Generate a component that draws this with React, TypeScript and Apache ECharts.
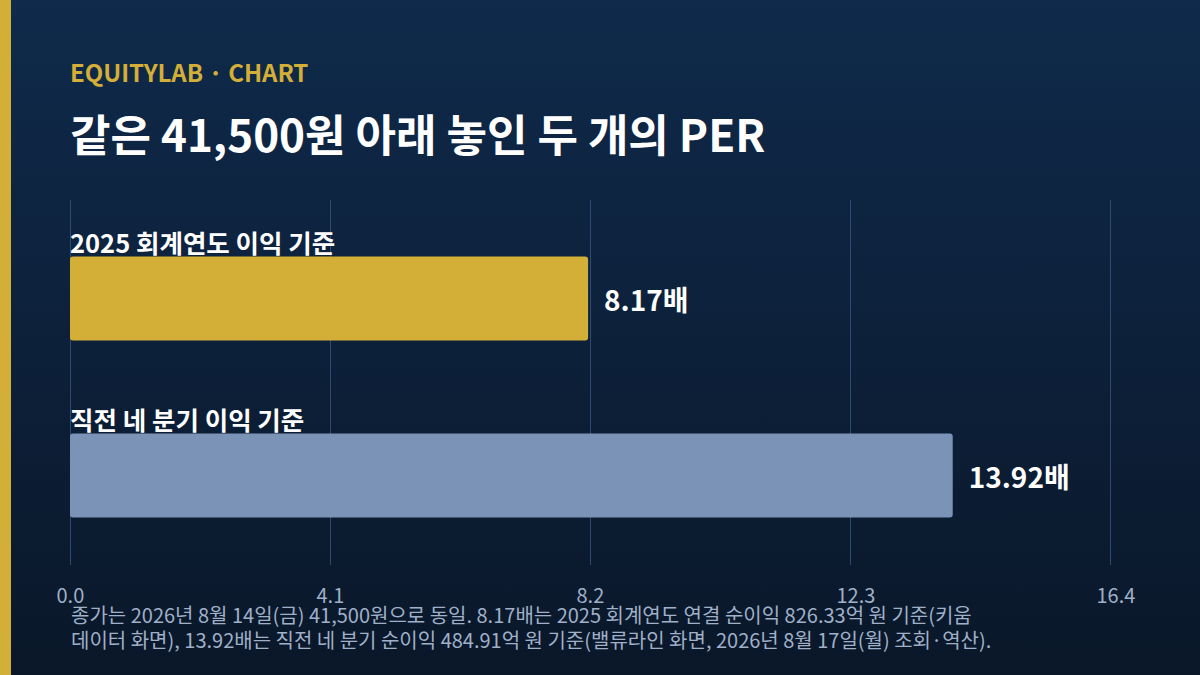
import React, { useEffect, useRef } from "react";
import * as echarts from "echarts";

const categories = ["2025 회계연도 이익 기준", "직전 네 분기 이익 기준"];
const perValues = [8.17, 13.92];
const barColors = ["#d4af37", "#7b93b6"];
const axisMin = 0;
const axisMax = 16.4;
const axisInterval = 4.1;
const kicker = "EQUITYLAB · CHART";
const headline = "같은 41,500원 아래 놓인 두 개의 PER";
const footnote =
  "종가는 2026년 8월 14일(금) 41,500원으로 동일. 8.17배는 2025 회계연도 연결 순이익 826.33억 원 기준(키움\n데이터 화면), 13.92배는 직전 네 분기 순이익 484.91억 원 기준(밸류라인 화면, 2026년 8월 17일(월) 조회·역산).";

const FONT = "'Noto Sans CJK KR', 'Noto Sans', sans-serif";

export default function App() {
  const ref = useRef<HTMLDivElement>(null);
  useEffect(() => {
    document.body.style.margin = "0";
    if (!ref.current) return;
    const chart = echarts.init(ref.current, null, { renderer: "svg" });
    chart.setOption({
      animation: false,
      backgroundColor: new echarts.graphic.LinearGradient(0, 0, 0, 1, [
        { offset: 0, color: "#0f2a4b" },
        { offset: 1, color: "#0a1729" },
      ]),
      textStyle: { fontFamily: FONT },
      title: [
        {
          text: kicker,
          left: 70,
          top: 58,
          padding: 0,
          textStyle: { color: "#d4af37", fontSize: 24, fontWeight: "bold", lineHeight: 26, fontFamily: FONT },
        },
        {
          text: headline,
          left: 70,
          top: 110,
          padding: 0,
          textStyle: { color: "#ffffff", fontSize: 44, fontWeight: "bold", lineHeight: 46, fontFamily: FONT },
        },
        {
          text: footnote,
          left: 71,
          top: 602,
          padding: 0,
          textStyle: { color: "#9fb0c8", fontSize: 20, fontWeight: "normal", lineHeight: 25, fontFamily: FONT },
        },
      ],
      graphic: [
        { type: "rect", left: 0, top: 0, shape: { x: 0, y: 0, width: 11, height: 675 }, style: { fill: "#d4af37" } },
      ],
      grid: [
        { left: 70, right: 90, top: 200, bottom: 110 },
        { left: 70, right: 90, top: 210, bottom: 111 },
      ],
      xAxis: [
        {
          gridIndex: 0,
          type: "value",
          min: axisMin,
          max: axisMax,
          interval: axisInterval,
          axisLine: { show: false },
          axisTick: { show: false },
          splitLine: { show: true, lineStyle: { color: "#2f4a70", width: 1 } },
          axisLabel: {
            margin: 22,
            align: "center",
            formatter: (v: number) => `{a|${v.toFixed(1)}}`,
            rich: {
              a: {
                width: 27,
                align: "left",
                color: "#9fb0c8",
                fontSize: 20,
                lineHeight: 14,
                fontFamily: FONT,
              },
            },
          },
        },
        {
          gridIndex: 1,
          type: "value",
          min: axisMin,
          max: axisMax,
          interval: axisInterval,
          show: false,
          splitLine: { show: false },
        },
      ],
      yAxis: [
        { gridIndex: 0, type: "category", data: categories, show: false },
        {
          gridIndex: 1,
          type: "category",
          data: categories,
          inverse: true,
          axisLine: { show: false },
          axisTick: { show: false },
          axisLabel: {
            inside: true,
            margin: 0,
            align: "left",
            verticalAlign: "bottom",
            padding: [0, 0, 44, 0],
            color: "#ffffff",
            fontSize: 25.5,
            fontWeight: "bold",
            lineHeight: 26,
            fontFamily: FONT,
          },
        },
      ],
      series: [
        {
          type: "bar",
          xAxisIndex: 1,
          yAxisIndex: 1,
          barWidth: 84,
          data: perValues.map((v, i) => ({
            value: v,
            itemStyle: { color: barColors[i], borderRadius: 3 },
          })),
          label: {
            show: true,
            position: "right",
            distance: 16,
            color: "#ffffff",
            fontSize: 28,
            fontWeight: "bold",
            fontFamily: FONT,
            formatter: (p: any) => `${p.value}배`,
          },
        },
      ],
    });
    return () => chart.dispose();
  }, []);
  return <div ref={ref} style={{ width: 1200, height: 675 }} />;
}
